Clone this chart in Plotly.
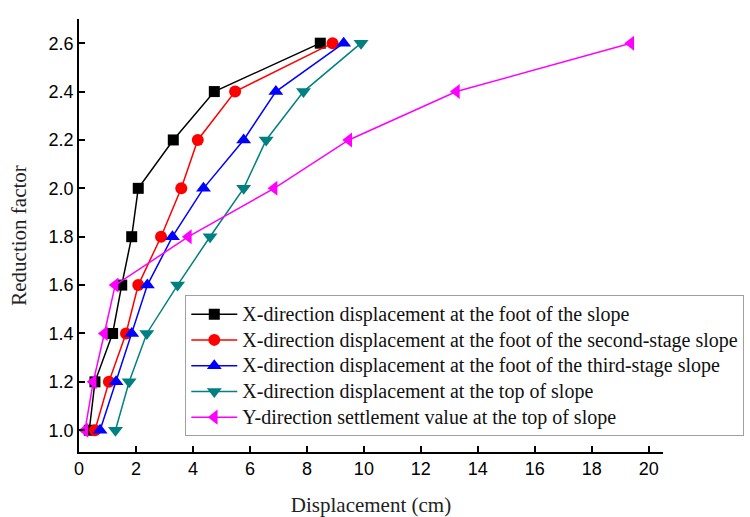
import plotly.graph_objects as go

reduction = [1.0, 1.2, 1.4, 1.6, 1.8, 2.0, 2.2, 2.4, 2.6]

foot_slope = [0.36, 0.56, 1.18, 1.50, 1.85, 2.08, 3.31, 4.75, 8.47]
foot_second = [0.56, 1.05, 1.65, 2.08, 2.88, 3.59, 4.17, 5.48, 8.90]
foot_third = [0.74, 1.30, 1.85, 2.40, 3.28, 4.37, 5.78, 6.91, 9.29]
top_x = [1.28, 1.76, 2.38, 3.46, 4.60, 5.78, 6.57, 7.88, 9.90]
top_y = [0.21, 0.50, 0.89, 1.27, 3.84, 6.85, 9.47, 13.25, 19.37]

names = [
    "X-direction displacement at the foot of the slope",
    "X-direction displacement at the foot of the second-stage slope",
    "X-direction displacement at the foot of the third-stage slope",
    "X-direction displacement at the top of slope",
    "Y-direction settlement value at the top of slope",
]
series = [foot_slope, foot_second, foot_third, top_x, top_y]
colors = ["#000000", "#FF0000", "#0000FF", "#008080", "#FF00FF"]
symbols = ["square", "circle", "triangle-up", "triangle-down", "triangle-left"]
sizes = [11, 12, 13, 13, 13]

x_ticks = list(range(0, 21, 2))
y_ticks = [1.0, 1.2, 1.4, 1.6, 1.8, 2.0, 2.2, 2.4, 2.6]

fig = go.Figure()
for n, s, c, m, sz in zip(names, series, colors, symbols, sizes):
    fig.add_trace(go.Scatter(
        x=s, y=reduction, mode="lines+markers",
        name=f'<span style="font-size:20px">{n}</span>',
        line=dict(color=c, width=1.5),
        marker=dict(symbol=m, size=sz, color=c, line=dict(width=0)),
    ))

fig.update_layout(
    width=750, height=517,
    margin=dict(l=79, r=87, t=19, b=65, autoexpand=False),
    paper_bgcolor="white", plot_bgcolor="white",
    showlegend=True,
    legend=dict(
        x=0.182, y=0.362, xanchor="left", yanchor="top",
        bgcolor="white", bordercolor="#a0a0a0", borderwidth=1,
        font=dict(family="Liberation Serif", size=17.5, color="#111111"),
        itemwidth=46, tracegroupgap=0,
    ),
    xaxis=dict(
        range=[0, 20.5], tickvals=x_ticks, ticktext=[str(v) for v in x_ticks],
        showgrid=False, zeroline=False, showline=True, linecolor="black", linewidth=1.5,
        ticks="inside", ticklen=6, tickwidth=1.5, tickcolor="black",
        tickfont=dict(family="Liberation Sans", size=18, color="black"),
        title=dict(text="Displacement (cm)", font=dict(family="Liberation Serif", size=21, color="#222222"), standoff=22),
    ),
    yaxis=dict(
        range=[0.91, 2.70], tickvals=y_ticks, ticktext=[f"{v:.1f}" for v in y_ticks],
        showgrid=False, zeroline=False, showline=True, linecolor="black", linewidth=1.5,
        ticks="inside", ticklen=6, tickwidth=1.5, tickcolor="black",
        tickfont=dict(family="Liberation Sans", size=18, color="black"),
        title=dict(text="Reduction factor", font=dict(family="Liberation Serif", size=21, color="#222222"), standoff=16),
    ),
)

fig.write_html("out.html")
